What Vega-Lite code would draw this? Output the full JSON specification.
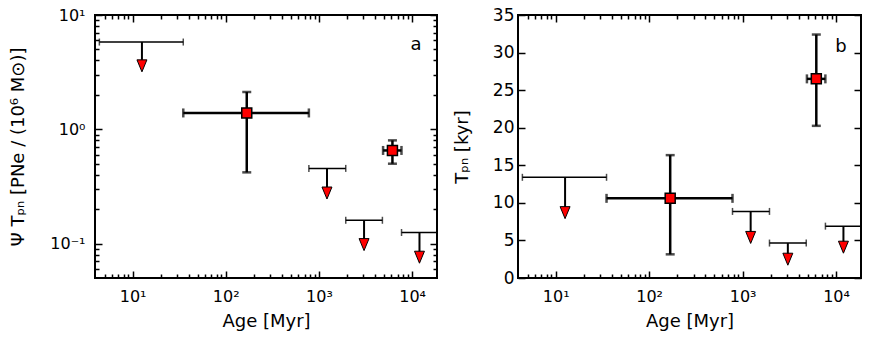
{
  "$schema": "https://vega.github.io/schema/vega-lite/v6.json",
  "background": "white",
  "padding": {"left": 8, "top": 5, "right": 0, "bottom": 0},
  "config": {
    "font": "DejaVu Sans",
    "view": {"stroke": "black", "strokeWidth": 2},
    "axis": {"grid": false, "domain": false, "tickColor": "black", "labelColor": "black", "titleColor": "black", "labelFont": "DejaVu Sans", "titleFont": "DejaVu Sans", "titleFontWeight": "normal", "labelFontSize": 17, "titleFontSize": 18, "tickWidth": 1.5}
  },
  "datasets": {
    "lim": [
      {"age": 12.6, "lo": 4.4, "hi": 35, "a": 5.8, "at": 3.59, "b": 13.4, "bt": 8.7},
      {"age": 1220, "lo": 780, "hi": 1940, "a": 0.455, "at": 0.277, "b": 8.86, "bt": 5.4},
      {"age": 3050, "lo": 1940, "hi": 4800, "a": 0.16, "at": 0.098, "b": 4.65, "bt": 2.5},
      {"age": 12000, "lo": 7700, "hi": 30000, "a": 0.125, "at": 0.076, "b": 6.9, "bt": 4.1}
    ],
    "det": [
      {"age": 168, "lo": 35, "hi": 780, "a": 1.39, "alo": 0.42, "ahi": 2.12, "b": 10.6, "blo": 3.15, "bhi": 16.35},
      {"age": 6150, "lo": 4880, "hi": 7690, "a": 0.653, "alo": 0.5, "ahi": 0.8, "b": 26.5, "blo": 20.25, "bhi": 32.4}
    ]
  },
  "spacing": 13,
  "hconcat": [
    {
      "width": 342,
      "height": 263,
      "resolve": {"axis": {"x": "independent", "y": "independent"}},
      "layer": [
        {
          "data": {"name": "lim"},
          "mark": {"type": "rule", "strokeWidth": 1.5, "color": "black", "clip": true},
          "encoding": {
            "x": {"field": "lo", "type": "quantitative", "scale": {"type": "log", "domain": [3.95, 18500], "nice": false},
              "axis": {"orient": "bottom", "values": [10, 100, 1000, 10000], "labelExpr": "datum.value==10?'10¹':datum.value==100?'10²':datum.value==1000?'10³':'10⁴'", "labelFontSize": 16, "offset": -7, "tickSize": 7, "labelPadding": 10, "title": "Age [Myr]", "titlePadding": 8}},
            "x2": {"field": "hi"},
            "y": {"field": "a", "type": "quantitative", "scale": {"type": "log", "domain": [0.05, 10], "nice": false},
              "axis": {"orient": "left", "values": [0.1, 1, 10], "labelExpr": "datum.value==0.1?'10⁻¹':datum.value==1?'10⁰':'10¹'", "labelFontSize": 16, "offset": -7, "tickSize": 7, "labelPadding": 10, "title": "Ψ Tₚₙ [PNe / (10⁶ M⊙)]", "titlePadding": 22}}
          }
        },
        {
          "data": {"name": "lim"},
          "mark": {"type": "tick", "orient": "vertical", "size": 7, "thickness": 1.5, "color": "black", "clip": true},
          "encoding": {
            "x": {"field": "lo", "type": "quantitative", "axis": {"orient": "bottom", "values": [5,6,7,8,9,20,30,40,50,60,70,80,90,200,300,400,500,600,700,800,900,2000,3000,4000,5000,6000,7000,8000,9000], "labels": false, "offset": -4, "tickSize": 4, "title": null}},
            "y": {"field": "a", "type": "quantitative", "axis": {"orient": "left", "values": [0.06,0.07,0.08,0.09,0.2,0.3,0.4,0.5,0.6,0.7,0.8,0.9,2,3,4,5,6,7,8,9], "labels": false, "offset": -4, "tickSize": 4, "title": null}}
          }
        },
        {
          "data": {"name": "lim"},
          "mark": {"type": "tick", "orient": "vertical", "size": 7, "thickness": 1.5, "color": "black", "clip": true},
          "encoding": {
            "x": {"field": "hi", "type": "quantitative", "axis": {"orient": "top", "values": [10, 100, 1000, 10000], "labels": false, "offset": -7, "tickSize": 7, "title": null}},
            "y": {"field": "a", "type": "quantitative", "axis": {"orient": "right", "values": [0.1, 1, 10], "labels": false, "offset": -7, "tickSize": 7, "title": null}}
          }
        },
        {
          "data": {"name": "lim"},
          "mark": {"type": "rule", "strokeWidth": 2, "color": "black"},
          "encoding": {
            "x": {"field": "age", "type": "quantitative", "axis": {"orient": "top", "values": [5,6,7,8,9,20,30,40,50,60,70,80,90,200,300,400,500,600,700,800,900,2000,3000,4000,5000,6000,7000,8000,9000], "labels": false, "offset": -4, "tickSize": 4, "title": null}},
            "y": {"field": "a", "type": "quantitative", "axis": {"orient": "right", "values": [0.06,0.07,0.08,0.09,0.2,0.3,0.4,0.5,0.6,0.7,0.8,0.9,2,3,4,5,6,7,8,9], "labels": false, "offset": -4, "tickSize": 4, "title": null}},
            "y2": {"field": "at"}
          }
        },
        {
          "data": {"name": "lim"},
          "mark": {"type": "point", "shape": "M-0.83,-1L0.83,-1L0,1Z", "size": 144, "filled": true, "fill": "#ff0000", "stroke": "black", "strokeWidth": 1, "opacity": 1},
          "encoding": {
            "x": {"field": "age", "type": "quantitative", "axis": null},
            "y": {"field": "at", "type": "quantitative", "axis": null}
          }
        },
        {
          "data": {"name": "det"},
          "mark": {"type": "rule", "strokeWidth": 2.5, "color": "black"},
          "encoding": {
            "x": {"field": "lo", "type": "quantitative", "axis": null},
            "x2": {"field": "hi"},
            "y": {"field": "a", "type": "quantitative", "axis": null}
          }
        },
        {
          "data": {"name": "det"},
          "mark": {"type": "rule", "strokeWidth": 2.5, "color": "black"},
          "encoding": {
            "x": {"field": "age", "type": "quantitative", "axis": null},
            "y": {"field": "alo", "type": "quantitative", "axis": null},
            "y2": {"field": "ahi"}
          }
        },
        {
          "data": {"name": "det"},
          "mark": {"type": "tick", "orient": "vertical", "size": 9, "thickness": 2.5, "color": "black"},
          "encoding": {
            "x": {"field": "lo", "type": "quantitative", "axis": null},
            "y": {"field": "a", "type": "quantitative", "axis": null}
          }
        },
        {
          "data": {"name": "det"},
          "mark": {"type": "tick", "orient": "vertical", "size": 9, "thickness": 2.5, "color": "black"},
          "encoding": {
            "x": {"field": "hi", "type": "quantitative", "axis": null},
            "y": {"field": "a", "type": "quantitative", "axis": null}
          }
        },
        {
          "data": {"name": "det"},
          "mark": {"type": "tick", "orient": "horizontal", "size": 9, "thickness": 2.5, "color": "black"},
          "encoding": {
            "x": {"field": "age", "type": "quantitative", "axis": null},
            "y": {"field": "alo", "type": "quantitative", "axis": null}
          }
        },
        {
          "data": {"name": "det"},
          "mark": {"type": "tick", "orient": "horizontal", "size": 9, "thickness": 2.5, "color": "black"},
          "encoding": {
            "x": {"field": "age", "type": "quantitative", "axis": null},
            "y": {"field": "ahi", "type": "quantitative", "axis": null}
          }
        },
        {
          "data": {"name": "det"},
          "mark": {"type": "point", "shape": "square", "size": 100, "filled": true, "fill": "#ff0000", "stroke": "black", "strokeWidth": 1.5, "opacity": 1},
          "encoding": {
            "x": {"field": "age", "type": "quantitative", "axis": null},
            "y": {"field": "a", "type": "quantitative", "axis": null}
          }
        },
        {
          "data": {"values": [{"t": "a", "x": 11000, "y": 5.5}]},
          "mark": {"type": "text", "fontSize": 18, "font": "DejaVu Sans", "color": "black", "baseline": "middle", "align": "center"},
          "encoding": {
            "x": {"field": "x", "type": "quantitative", "axis": null},
            "y": {"field": "y", "type": "quantitative", "axis": null},
            "text": {"field": "t"}
          }
        }
      ]
    },
    {
      "width": 343,
      "height": 263,
      "resolve": {"axis": {"x": "independent", "y": "independent"}},
      "layer": [
        {
          "data": {"name": "lim"},
          "mark": {"type": "rule", "strokeWidth": 1.5, "color": "black", "clip": true},
          "encoding": {
            "x": {"field": "lo", "type": "quantitative", "scale": {"type": "log", "domain": [3.95, 18500], "nice": false},
              "axis": {"orient": "bottom", "values": [10, 100, 1000, 10000], "labelExpr": "datum.value==10?'10¹':datum.value==100?'10²':datum.value==1000?'10³':'10⁴'", "labelFontSize": 16, "offset": -7, "tickSize": 7, "labelPadding": 10, "title": "Age [Myr]", "titlePadding": 8}},
            "x2": {"field": "hi"},
            "y": {"field": "b", "type": "quantitative", "scale": {"type": "linear", "domain": [0, 35], "nice": false, "zero": true},
              "axis": {"orient": "left", "values": [0, 5, 10, 15, 20, 25, 30, 35], "offset": -7, "tickSize": 7, "labelPadding": 4, "title": "Tₚₙ [kyr]", "titlePadding": 21}}
          }
        },
        {
          "data": {"name": "lim"},
          "mark": {"type": "tick", "orient": "vertical", "size": 7, "thickness": 1.5, "color": "black", "clip": true},
          "encoding": {
            "x": {"field": "lo", "type": "quantitative", "axis": {"orient": "bottom", "values": [5,6,7,8,9,20,30,40,50,60,70,80,90,200,300,400,500,600,700,800,900,2000,3000,4000,5000,6000,7000,8000,9000], "labels": false, "offset": -4, "tickSize": 4, "title": null}},
            "y": {"field": "b", "type": "quantitative", "axis": {"orient": "right", "values": [0, 5, 10, 15, 20, 25, 30, 35], "labels": false, "offset": -7, "tickSize": 7, "title": null}}
          }
        },
        {
          "data": {"name": "lim"},
          "mark": {"type": "tick", "orient": "vertical", "size": 7, "thickness": 1.5, "color": "black", "clip": true},
          "encoding": {
            "x": {"field": "hi", "type": "quantitative", "axis": {"orient": "top", "values": [10, 100, 1000, 10000], "labels": false, "offset": -7, "tickSize": 7, "title": null}},
            "y": {"field": "b", "type": "quantitative", "axis": null}
          }
        },
        {
          "data": {"name": "lim"},
          "mark": {"type": "rule", "strokeWidth": 2, "color": "black"},
          "encoding": {
            "x": {"field": "age", "type": "quantitative", "axis": {"orient": "top", "values": [5,6,7,8,9,20,30,40,50,60,70,80,90,200,300,400,500,600,700,800,900,2000,3000,4000,5000,6000,7000,8000,9000], "labels": false, "offset": -4, "tickSize": 4, "title": null}},
            "y": {"field": "b", "type": "quantitative", "axis": null},
            "y2": {"field": "bt"}
          }
        },
        {
          "data": {"name": "lim"},
          "mark": {"type": "point", "shape": "M-0.83,-1L0.83,-1L0,1Z", "size": 144, "filled": true, "fill": "#ff0000", "stroke": "black", "strokeWidth": 1, "opacity": 1},
          "encoding": {
            "x": {"field": "age", "type": "quantitative", "axis": null},
            "y": {"field": "bt", "type": "quantitative", "axis": null}
          }
        },
        {
          "data": {"name": "det"},
          "mark": {"type": "rule", "strokeWidth": 2.5, "color": "black"},
          "encoding": {
            "x": {"field": "lo", "type": "quantitative", "axis": null},
            "x2": {"field": "hi"},
            "y": {"field": "b", "type": "quantitative", "axis": null}
          }
        },
        {
          "data": {"name": "det"},
          "mark": {"type": "rule", "strokeWidth": 2.5, "color": "black"},
          "encoding": {
            "x": {"field": "age", "type": "quantitative", "axis": null},
            "y": {"field": "blo", "type": "quantitative", "axis": null},
            "y2": {"field": "bhi"}
          }
        },
        {
          "data": {"name": "det"},
          "mark": {"type": "tick", "orient": "vertical", "size": 9, "thickness": 2.5, "color": "black"},
          "encoding": {
            "x": {"field": "lo", "type": "quantitative", "axis": null},
            "y": {"field": "b", "type": "quantitative", "axis": null}
          }
        },
        {
          "data": {"name": "det"},
          "mark": {"type": "tick", "orient": "vertical", "size": 9, "thickness": 2.5, "color": "black"},
          "encoding": {
            "x": {"field": "hi", "type": "quantitative", "axis": null},
            "y": {"field": "b", "type": "quantitative", "axis": null}
          }
        },
        {
          "data": {"name": "det"},
          "mark": {"type": "tick", "orient": "horizontal", "size": 9, "thickness": 2.5, "color": "black"},
          "encoding": {
            "x": {"field": "age", "type": "quantitative", "axis": null},
            "y": {"field": "blo", "type": "quantitative", "axis": null}
          }
        },
        {
          "data": {"name": "det"},
          "mark": {"type": "tick", "orient": "horizontal", "size": 9, "thickness": 2.5, "color": "black"},
          "encoding": {
            "x": {"field": "age", "type": "quantitative", "axis": null},
            "y": {"field": "bhi", "type": "quantitative", "axis": null}
          }
        },
        {
          "data": {"name": "det"},
          "mark": {"type": "point", "shape": "square", "size": 100, "filled": true, "fill": "#ff0000", "stroke": "black", "strokeWidth": 1.5, "opacity": 1},
          "encoding": {
            "x": {"field": "age", "type": "quantitative", "axis": null},
            "y": {"field": "b", "type": "quantitative", "axis": null}
          }
        },
        {
          "data": {"values": [{"t": "b", "x": 11300, "y": 30.7}]},
          "mark": {"type": "text", "fontSize": 18, "font": "DejaVu Sans", "color": "black", "baseline": "middle", "align": "center"},
          "encoding": {
            "x": {"field": "x", "type": "quantitative", "axis": null},
            "y": {"field": "y", "type": "quantitative", "axis": null},
            "text": {"field": "t"}
          }
        }
      ]
    }
  ]
}
